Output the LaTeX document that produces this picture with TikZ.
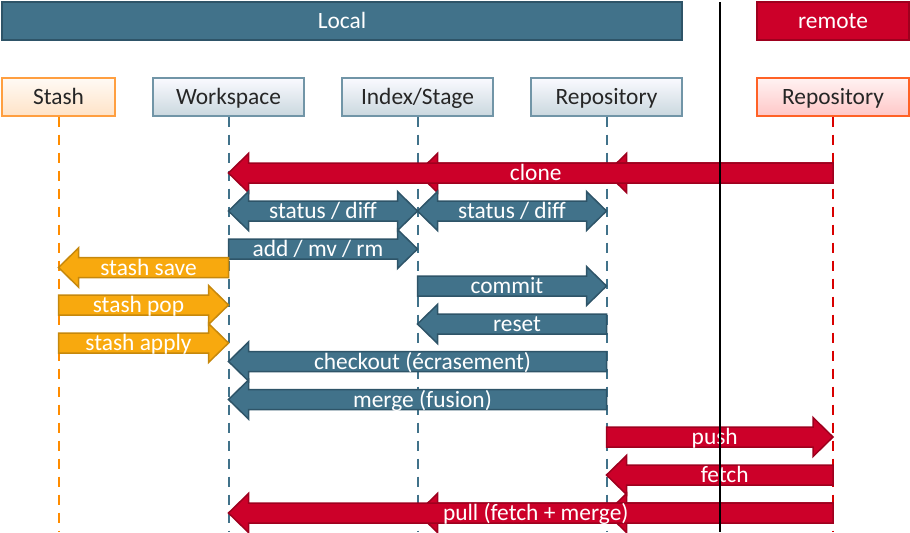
\documentclass[tikz,border=0pt]{standalone}
\usepackage{fontspec}
\setmainfont{Carlito}
\usepackage{xcolor}
\usetikzlibrary{calc, positioning}

\definecolor{gitblue}{RGB}{65,114,138}
\definecolor{gitbluedark}{RGB}{46,84,104}
\definecolor{gitred}{RGB}{204,0,41}
\definecolor{gitreddark}{RGB}{158,0,30}
\definecolor{gitorange}{RGB}{248,169,14}
\definecolor{gitorangedark}{RGB}{198,136,12}

% block arrow: [style]{from node}{to node}{row}{label}
\newcommand{\blockarrow}[5][]{%
  \coordinate (ba-s) at (#2 |- #4);
  \coordinate (ba-t) at (#3 |- #4);
  \coordinate (ba-h) at ($(ba-t)!10pt!(ba-s)$);
  \draw[#1] ($(ba-s)+(0,5pt)$) -- ($(ba-h)+(0,5pt)$) -- ($(ba-h)+(0,9.75pt)$) -- (ba-t)
    -- ($(ba-h)-(0,9.75pt)$) -- ($(ba-h)-(0,5pt)$) -- ($(ba-s)-(0,5pt)$) -- cycle;
  \node[lbl] at ($(ba-s)!.5!(ba-t)!2.5pt!(ba-s)$) {#5};
}
% same, with a head at both ends
\newcommand{\dblarrow}[5][]{%
  \coordinate (ba-s) at (#2 |- #4);
  \coordinate (ba-t) at (#3 |- #4);
  \coordinate (ba-h) at ($(ba-t)!10pt!(ba-s)$);
  \coordinate (ba-g) at ($(ba-s)!10pt!(ba-t)$);
  \draw[#1] (ba-s) -- ($(ba-g)+(0,9.75pt)$) -- ($(ba-g)+(0,5pt)$) -- ($(ba-h)+(0,5pt)$)
    -- ($(ba-h)+(0,9.75pt)$) -- (ba-t) -- ($(ba-h)-(0,9.75pt)$) -- ($(ba-h)-(0,5pt)$)
    -- ($(ba-g)-(0,5pt)$) -- ($(ba-g)-(0,9.75pt)$) -- cycle;
  \node[lbl] at ($(ba-s)!.5!(ba-t)$) {#5};
}

\begin{document}
\begin{tikzpicture}[x=.5pt, y=.5pt,
    txt/.style={font=\fontsize{11.7}{14}\selectfont, text height=9.5pt, text depth=1.6pt},
    bar/.style={
            % The shape:
            rectangle, minimum height=19pt,
            % The border
            line width=1pt,
            % The text
            txt, text=white},
    head/.style={rectangle, minimum width=75.5pt, minimum height=19pt,
            line width=.6pt, txt, text=black!85},
    bluehead/.style={head, draw=gitblue!75, top color=blue!2!white, bottom color=gitblue!28},
    life/.style={line width=1pt, dash pattern=on 5pt off 4pt},
    lbl/.style={txt, text=white, inner sep=0pt},
    bluearrow/.style={fill=gitblue, draw=gitbluedark, line width=.75pt},
    redarrow/.style={fill=gitred, draw=gitreddark, line width=.75pt},
    orangearrow/.style={fill=gitorange, draw=gitorangedark, line width=.75pt}]

  \useasboundingbox (0,0) rectangle (910,-532);

  % banners
  \node[bar, minimum width=340pt, fill=gitblue, draw=gitbluedark] (local) at (342,-21) {Local};
  \node[bar, minimum width=76pt, fill=gitred, draw=gitreddark] (remote) at (833,-21) {remote};

  % the stores
  \node[head, minimum width=56.5pt, draw=orange!75, top color=orange!4, bottom color=orange!22] (stash) at (58.5,-97) {Stash};
  \node[bluehead] (ws) at (228.5,-97) {Workspace};
  \node[bluehead] (idx) at (417.5,-97) {Index/Stage};
  \node[bluehead] (repo) at (606.5,-97) {Repository};
  \node[head, minimum width=76pt, draw=red!45!orange!85, top color=red!5, bottom color=red!22] (rrepo) at (833,-97) {Repository};

  % lifelines
  \draw[life, draw=orange!90!yellow] (stash.south) -- (stash |- 0,-532);
  \foreach \n in {ws,idx,repo}{
    \draw[life, draw=gitblue] (\n.south) -- (\n |- 0,-532);
  }
  \draw[life, draw=red!85!black] (rrepo.south) -- (rrepo |- 0,-532);

  % rows
  \foreach \n/\y in {clone/173, status/211, add/249, save/267.5, commit/286, pop/305,
                     reset/324, apply/343, checkout/361.5, merge/399.5, push/437,
                     fetch/475, pull/513}{
    \coordinate (r-\n) at (0,-\y);
  }

  % clone reaches all three local stores
  \blockarrow[redarrow]{rrepo}{repo}{r-clone}{}
  \blockarrow[redarrow]{rrepo}{idx}{r-clone}{}
  \blockarrow[redarrow]{rrepo}{ws}{r-clone}{clone}

  \dblarrow[bluearrow]{ws}{idx}{r-status}{status / diff}
  \dblarrow[bluearrow]{idx}{repo}{r-status}{status / diff}
  \blockarrow[bluearrow]{ws}{idx}{r-add}{add / mv / rm}
  \blockarrow[orangearrow]{ws}{stash}{r-save}{stash save}
  \blockarrow[bluearrow]{idx}{repo}{r-commit}{commit}
  \blockarrow[orangearrow]{stash}{ws}{r-pop}{stash pop}
  \blockarrow[bluearrow]{repo}{idx}{r-reset}{reset}
  \blockarrow[orangearrow]{stash}{ws}{r-apply}{stash apply}
  \blockarrow[bluearrow]{repo}{ws}{r-checkout}{checkout (écrasement)}
  \blockarrow[bluearrow]{repo}{ws}{r-merge}{merge (fusion)}
  \blockarrow[redarrow]{repo}{rrepo}{r-push}{push}
  \blockarrow[redarrow]{rrepo}{repo}{r-fetch}{fetch}

  % pull, same way
  \blockarrow[redarrow]{rrepo}{repo}{r-pull}{}
  \blockarrow[redarrow]{rrepo}{idx}{r-pull}{}
  \blockarrow[redarrow]{rrepo}{ws}{r-pull}{pull (fetch + merge)}

  % local / remote divide
  \coordinate (divtop) at (720,-2);
  \draw[line width=1pt] (divtop) -- (divtop |- 0,-532);

\end{tikzpicture}
\end{document}
